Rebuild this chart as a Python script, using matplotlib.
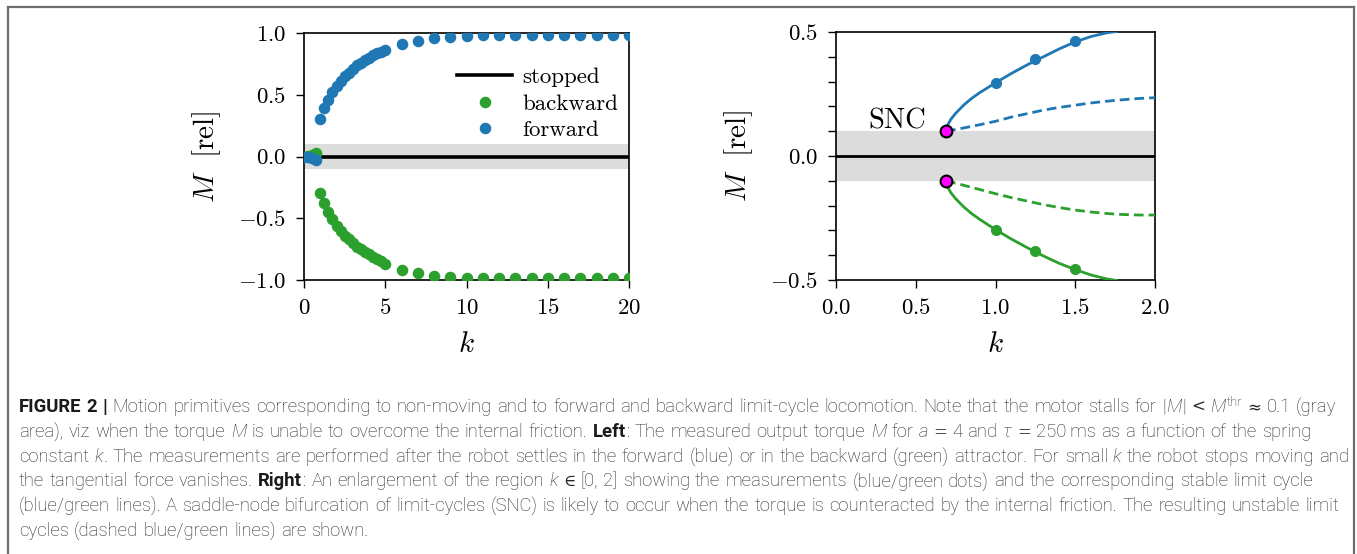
import matplotlib
matplotlib.use("Agg")
import matplotlib.pyplot as plt
from matplotlib.lines import Line2D
from matplotlib.transforms import IdentityTransform

# --- left panel: measured torque M vs spring constant k ---
k_meas = [0.0, 0.25, 0.5, 0.75, 1.0, 1.25, 1.5, 1.75, 2.0, 2.25, 2.5, 2.75,
          3.0, 3.25, 3.5, 3.75, 4.0, 4.25, 4.5, 4.75, 5.0,
          6, 7, 8, 9, 10, 11, 12, 13, 14, 15, 16, 17, 18, 19, 20]
M_forward = [0.0, -0.005, -0.01, -0.03, 0.30, 0.39, 0.46, 0.52, 0.57, 0.61, 0.65, 0.68,
             0.71, 0.74, 0.76, 0.78, 0.80, 0.82, 0.835, 0.85, 0.862,
             0.907, 0.933, 0.958, 0.97, 0.978, 0.98, 0.982, 0.983, 0.984, 0.985,
             0.985, 0.985, 0.985, 0.985, 0.985]
M_backward = [0.0, 0.005, 0.01, 0.025, -0.297, -0.38, -0.45, -0.51, -0.56, -0.60, -0.64, -0.67,
              -0.70, -0.73, -0.75, -0.77, -0.79, -0.81, -0.83, -0.85, -0.867,
              -0.915, -0.943, -0.965, -0.975, -0.982, -0.984, -0.985, -0.985, -0.985,
              -0.985, -0.985, -0.985, -0.985, -0.985, -0.985]

# --- right panel: zoom on k in [0, 2] ---
k_zoom = [1.0, 1.25, 1.5]
M_zoom_fwd = [0.295, 0.392, 0.465]
M_zoom_bwd = [-0.297, -0.383, -0.455]

k_stable = [0.69, 0.70, 0.72, 0.75, 0.80, 0.85, 0.90, 1.0, 1.1, 1.2, 1.3, 1.4,
            1.5, 1.6, 1.7, 1.76]
M_stable_fwd = [0.10, 0.125, 0.148, 0.172, 0.205, 0.232, 0.255, 0.295, 0.333, 0.368,
                0.40, 0.432, 0.46, 0.482, 0.497, 0.502]
M_stable_bwd = [-0.10, -0.125, -0.148, -0.172, -0.205, -0.232, -0.255, -0.297, -0.335,
                -0.37, -0.403, -0.433, -0.458, -0.48, -0.496, -0.502]

k_unstable = [0.69, 0.8, 0.9, 1.0, 1.1, 1.2, 1.3, 1.4, 1.5, 1.6, 1.7, 1.8, 1.9, 2.0]
M_unstable_fwd = [0.10, 0.113, 0.126, 0.140, 0.157, 0.171, 0.185, 0.196, 0.205,
                  0.214, 0.221, 0.227, 0.232, 0.235]
M_unstable_bwd = [-0.10, -0.118, -0.135, -0.152, -0.168, -0.182, -0.196, -0.208,
                  -0.218, -0.226, -0.232, -0.236, -0.238, -0.238]

k_snc = [0.69, 0.69]
M_snc = [0.10, -0.10]
M_thr = 0.1

BLUE = "#1f77b4"
GREEN = "#2ca02c"

plt.rcParams["font.family"] = "serif"
plt.rcParams["font.serif"] = ["cmr10"]
plt.rcParams["mathtext.fontset"] = "cm"
plt.rcParams["axes.formatter.use_mathtext"] = True

W, H = 1357, 554
fig = plt.figure(figsize=(W / 100, H / 100), dpi=100)

TICK = 16.5
LAB = 21


def style_axes(ax):
    for s in ax.spines.values():
        s.set_linewidth(1.2)
    ax.tick_params(labelsize=TICK, length=6, width=1.0, pad=7)


ax1 = fig.add_axes([304 / W, 1 - 280 / H, 325 / W, 247 / H])
ax1.axhspan(-M_thr, M_thr, color="#dcdcdc", lw=0, zorder=0)
ax1.plot([0, 20], [0, 0], color="black", lw=2.6, label="stopped", zorder=2)
ax1.plot(k_meas, M_backward, "o", color=GREEN, ms=7.3, label="backward", zorder=3)
ax1.plot(k_meas, M_forward, "o", color=BLUE, ms=7.3, label="forward", zorder=3)
ax1.set_xlim(0, 20)
ax1.set_ylim(-1.0, 1.0)
ax1.set_xticks([0, 5, 10, 15, 20])
ax1.set_yticks([-1.0, -0.5, 0.0, 0.5, 1.0])
ax1.set_xlabel("$k$", fontsize=LAB, labelpad=10)
ax1.set_ylabel(r"$M\ \ [\mathrm{rel}]$", fontsize=LAB, labelpad=11)
style_axes(ax1)
ax1.legend(loc="center right", bbox_to_anchor=(0.995, 0.713), frameon=False,
           fontsize=TICK, handlelength=2.4, handletextpad=0.45,
           labelspacing=0.28, numpoints=1, borderaxespad=0.0)

ax2 = fig.add_axes([836 / W, 1 - 280 / H, 319 / W, 248 / H])
ax2.axhspan(-M_thr, M_thr, color="#dcdcdc", lw=0, zorder=0)
ax2.plot([0, 2], [0, 0], color="black", lw=2.0, zorder=2)
ax2.plot(k_stable, M_stable_fwd, color=BLUE, lw=2.0, zorder=3)
ax2.plot(k_stable, M_stable_bwd, color=GREEN, lw=2.0, zorder=3)
ax2.plot(k_unstable, M_unstable_fwd, color=BLUE, lw=2.0, ls=(0, (3.5, 1.8)), zorder=3)
ax2.plot(k_unstable, M_unstable_bwd, color=GREEN, lw=2.0, ls=(0, (3.5, 1.8)), zorder=3)
ax2.plot(k_zoom, M_zoom_fwd, "o", color=BLUE, ms=7.0, zorder=4)
ax2.plot(k_zoom, M_zoom_bwd, "o", color=GREEN, ms=7.0, zorder=4)
ax2.plot(k_snc, M_snc, "o", mfc="#ff00ff", mec="black", mew=1.5, ms=8.5, zorder=5)
ax2.text(0.2, 0.14, "SNC", fontsize=20.5, ha="left", va="center")
ax2.set_xlim(0, 2)
ax2.set_ylim(-0.5, 0.5)
ax2.set_xticks([0.0, 0.5, 1.0, 1.5, 2.0])
yt = [-0.5, -0.4, -0.3, -0.2, -0.1, 0.0, 0.1, 0.2, 0.3, 0.4, 0.5]
ax2.set_yticks(yt)
ax2.set_yticklabels(["$-0.5$" if v == -0.5 else ("$0.0$" if v == 0.0 else ("$0.5$" if v == 0.5 else ""))
                     for v in yt])
ax2.xaxis.set_major_formatter(matplotlib.ticker.FormatStrFormatter("$%.1f$"))
ax2.set_xlabel("$k$", fontsize=LAB, labelpad=10)
ax2.set_ylabel(r"$M\ \ [\mathrm{rel}]$", fontsize=LAB, labelpad=11)
style_axes(ax2)

# --- frame around the figure ---
for xs, ys in [([7.5, 7.5], [0, H - 6.5]), ([7.5, W - 3.5], [H - 6.5, H - 6.5]),
               ([W - 3.5, W - 3.5], [0, H - 6.5])]:
    fig.add_artist(Line2D(xs, ys, transform=IdentityTransform(), color="#6e6e6e", lw=1.6))

# --- caption ---
caption = [
    [("FIGURE 2 | ", "b"), ("Motion primitives corresponding to non-moving and to forward and "
     "backward limit-cycle locomotion. Note that the motor stalls for |", "n"), ("M", "i"),
     ("| ", "n"), ("<", "m"), (" ", "n"), ("M", "i"), ("thr", "s"), (" ", "n"), ("\u2248", "m"),
     (" 0.1 (gray", "n")],
    [("area), viz when the torque ", "n"), ("M", "i"), (" is unable to overcome the internal friction. ", "n"),
     ("Left", "b"), (": The measured output torque ", "n"), ("M", "i"), (" for ", "n"), ("a", "i"),
     (" ", "n"), ("=", "m"), (" 4 and ", "n"), ("\u03c4", "i"), (" ", "n"), ("=", "m"),
     (" 250\u2009ms as a function of the spring", "n")],
    [("constant ", "n"), ("k", "i"), (". The measurements are performed after the robot settles in the "
     "forward (blue) or in the backward (green) attractor. For small ", "n"), ("k", "i"),
     (" the robot stops moving and", "n")],
    [("the tangential force vanishes. ", "n"), ("Right", "b"), (": An enlargement of the region ", "n"),
     ("k", "i"), (" ", "n"), ("\u2208", "m"), (" [0, 2] showing the measurements (blue/green dots) "
     "and the corresponding stable limit cycle", "n")],
    [("(blue/green lines). A saddle-node bifurcation of limit-cycles (SNC) is likely to occur when "
      "the torque is counteracted by the internal friction. The resulting unstable limit", "n")],
    [("cycles (dashed blue/green lines) are shown.", "n")],
]

CAP = 13.3
fam = ["Roboto", "DejaVu Sans"]
renderer = fig.canvas.get_renderer()


def props(style):
    d = dict(family=fam, fontsize=CAP, color="#262626", weight="light", style="normal")
    if style == "b":
        d.update(weight="bold", color="#1a1a1a")
    elif style == "i":
        d.update(style="italic")
    elif style == "s":
        d.update(fontsize=CAP * 0.7)
    elif style == "m":
        d.update(family=["DejaVu Serif"], weight="normal", fontsize=CAP * 0.9)
    return d


def width(t):
    return t.get_window_extent(renderer).width


probe_a = fig.text(0, 0, "a a", **props("n"))
probe_b = fig.text(0, 0, "aa", **props("n"))
space_w = width(probe_a) - width(probe_b)
probe_a.remove()
probe_b.remove()

x0 = 19
base0 = 412
step = 24.8
for li, chunks in enumerate(caption):
    x = x0
    y = H - (base0 + li * step)
    for text, style in chunks:
        dy = 6 if style == "s" else 0
        parts = text.split(" ")
        for i, part in enumerate(parts):
            if i > 0:
                x += space_w
            if not part:
                continue
            t = fig.text(x, y + dy, part, transform=IdentityTransform(), va="baseline",
                         ha="left", **props(style))
            x += width(t) + 0.8

fig.savefig("out.png", dpi=100)
